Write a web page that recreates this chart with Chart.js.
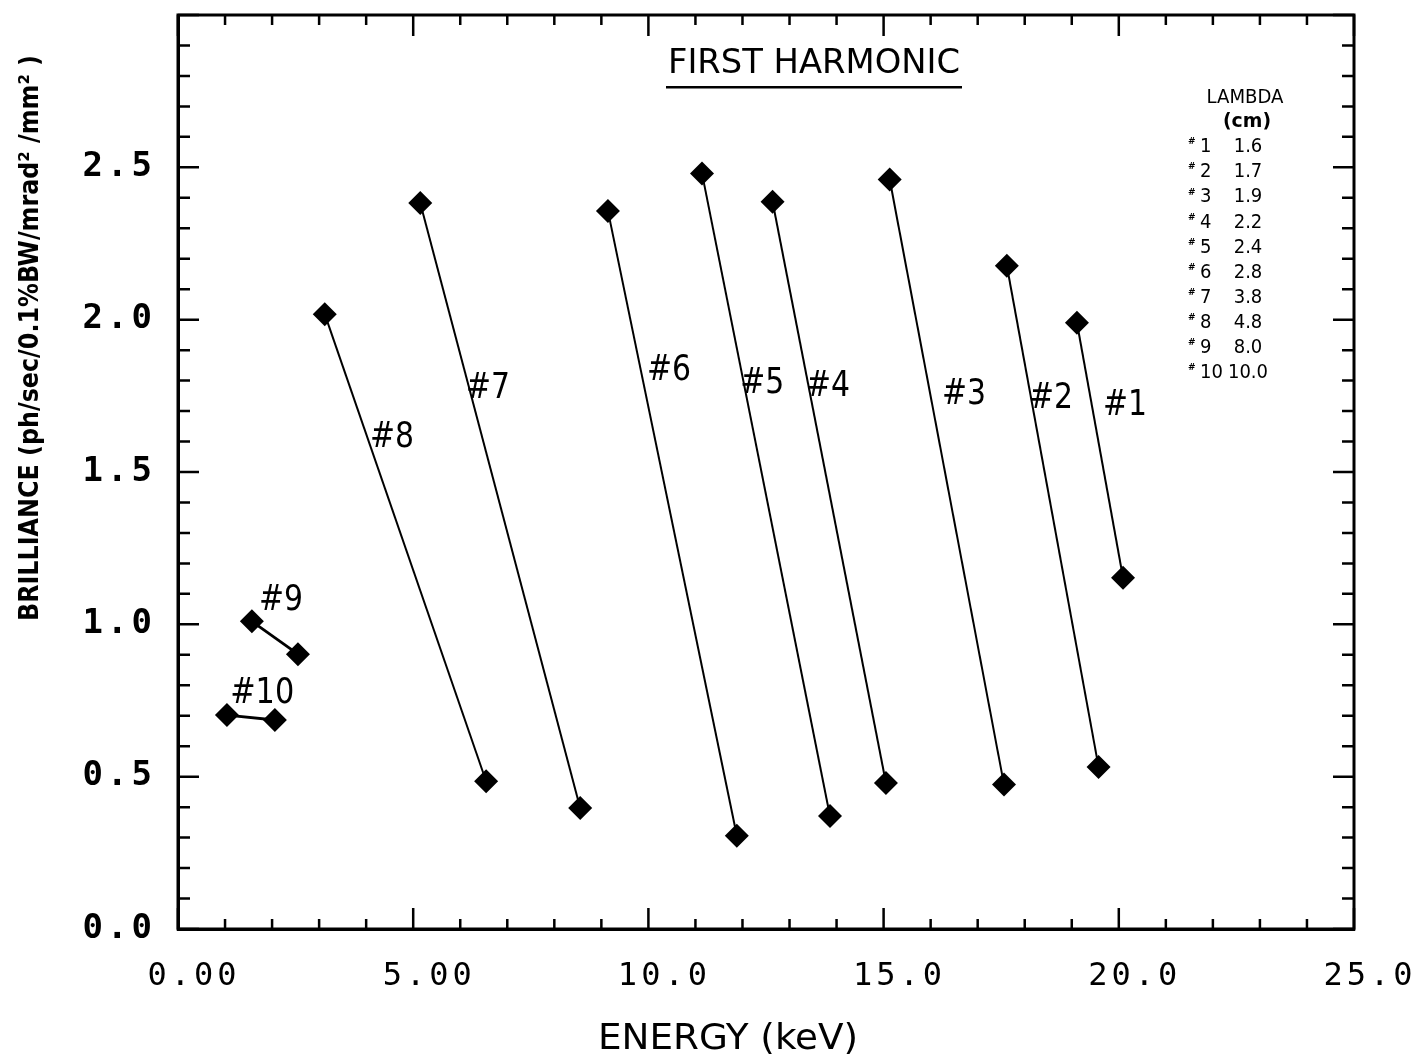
<!DOCTYPE html>
<html>
<head>
<meta charset="utf-8">
<script src="https://cdn.jsdelivr.net/npm/chart.js@4.4.1/dist/chart.umd.min.js"></script>
<style>
html,body{margin:0;padding:0;background:#fff;}
#wrap{width:1426px;height:1061px;}
</style>
</head>
<body>
<div id="wrap"><canvas id="c" width="1426" height="1061"></canvas></div>
<script>
// ---- data ----
const seriesNames = ['#1','#2','#3','#4','#5','#6','#7','#8','#9','#10'];
const lambdaCm    = ['1.6','1.7','1.9','2.2','2.4','2.8','3.8','4.8','8.0','10.0'];
const energyStart = [19.11, 17.62, 15.13, 12.64, 11.14, 9.14, 5.15, 3.12, 1.57, 1.04];
const energyEnd   = [20.09, 19.57, 17.56, 15.05, 13.86, 11.88, 8.55, 6.55, 2.55, 2.06];
const brillStart  = [1.990, 2.177, 2.460, 2.387, 2.480, 2.357, 2.383, 2.018, 1.010, 0.702];
const brillEnd    = [1.153, 0.532, 0.474, 0.479, 0.371, 0.306, 0.397, 0.485, 0.902, 0.686];
// where the "#n" tags sit, in axis units
const tagEnergy   = [20.13, 18.56, 16.71, 13.82, 12.42, 10.44, 6.59, 4.55, 2.19, 1.79];
const tagBrill    = [1.719, 1.742, 1.755, 1.781, 1.791, 1.834, 1.775, 1.614, 1.079, 0.774];
const xTickValues = [0, 5, 10, 15, 20, 25];
const xTickLabels = ['0.00', '5.00', '10.0', '15.0', '20.0', '25.0'];
const yTickValues = [0, 0.5, 1.0, 1.5, 2.0, 2.5];
const yTickLabels = ['0.0', '0.5', '1.0', '1.5', '2.0', '2.5'];
const chartTitle  = 'FIRST HARMONIC';
const xTitle      = 'ENERGY (keV)';
const yTitle      = 'BRILLIANCE (ph/sec/0.1%BW/mrad\u00B2 /mm\u00B2 )';
const legendHead  = ['LAMBDA', '(cm)'];

const datasets = seriesNames.map((name, i) => ({
  label: name,
  data: [{x: energyStart[i], y: brillStart[i]}, {x: energyEnd[i], y: brillEnd[i]}],
  borderColor: '#000',
  borderWidth: i >= 8 ? 2.8 : 2,
  pointStyle: 'rectRot',
  pointRadius: 12,
  pointBackgroundColor: '#000',
  pointBorderColor: '#000',
  pointBorderWidth: 0,
  tension: 0,
  fill: false
}));

function fitText(ctx, text, x, y, font, width, align) {
  ctx.save();
  ctx.font = font;
  const w = ctx.measureText(text).width;
  const s = width / w;
  ctx.translate(x, y);
  ctx.scale(s, 1);
  ctx.textAlign = align || 'center';
  ctx.textBaseline = 'middle';
  ctx.fillStyle = '#000';
  ctx.fillText(text, 0, 0);
  ctx.restore();
}

const spacingPlugin = {
  id: 'spacing',
  beforeDraw(chart) { chart.ctx.letterSpacing = '4px'; },
  beforeDatasetsDraw(chart) { chart.ctx.letterSpacing = '0px'; }
};

const CF = '"DejaVu Sans Condensed", "DejaVu Sans", sans-serif';

const decorPlugin = {
  id: 'decor',
  afterDraw(chart) {
    const ctx = chart.ctx;
    const a = chart.chartArea;
    const xs = chart.scales.x, ys = chart.scales.y;
    ctx.save();
    ctx.letterSpacing = '0px';
    ctx.strokeStyle = '#000';
    ctx.fillStyle = '#000';
    // frame
    ctx.lineWidth = 3;
    ctx.strokeRect(a.left, a.top, a.right - a.left, a.bottom - a.top);
    // inward ticks
    ctx.lineWidth = 2.5;
    ctx.beginPath();
    for (let v = 0; v <= 25; v++) {
      const px = xs.getPixelForValue(v);
      const len = v % 5 === 0 ? 21 : 10;
      ctx.moveTo(px, a.bottom); ctx.lineTo(px, a.bottom - len);
      ctx.moveTo(px, a.top); ctx.lineTo(px, a.top + len);
    }
    for (let k = 0; k <= 30; k++) {
      const v = k / 10;
      const py = ys.getPixelForValue(v);
      const len = k % 5 === 0 ? 21 : 12;
      ctx.moveTo(a.left, py); ctx.lineTo(a.left + len, py);
      ctx.moveTo(a.right, py); ctx.lineTo(a.right - len, py);
    }
    ctx.stroke();

    // title + underline
    fitText(ctx, chartTitle, 814, 64, '34px ' + CF, 292);
    ctx.fillRect(666, 86, 296, 2.5);

    // axis titles
    fitText(ctx, xTitle, 728, 1040, '36px ' + CF, 260);
    ctx.save();
    ctx.translate(31, 338);
    ctx.rotate(-Math.PI / 2);
    fitText(ctx, yTitle, 0, 0, 'bold 26px ' + CF, 566);
    ctx.restore();

    // series tags
    seriesNames.forEach((name, i) => {
      const px = xs.getPixelForValue(tagEnergy[i]);
      const py = ys.getPixelForValue(tagBrill[i]);
      const w = name.length > 2 ? 64 : 44;
      fitText(ctx, name, px, py, '36px ' + CF, w);
    });

    // lambda table
    fitText(ctx, legendHead[0], 1245, 98, '20px ' + CF, 77);
    fitText(ctx, legendHead[1], 1247, 122, 'bold 20px ' + CF, 48);
    seriesNames.forEach((name, i) => {
      const y = 147 + i * 25.1;
      ctx.save();
      ctx.textBaseline = 'middle';
      ctx.textAlign = 'left';
      ctx.font = 'bold 9px "DejaVu Sans", sans-serif';
      ctx.fillText('#', 1188, y - 5);
      ctx.font = '20px ' + CF;
      ctx.fillText(name.slice(1), 1200, y);
      ctx.textAlign = 'center';
      ctx.fillText(lambdaCm[i], 1248, y);
      ctx.restore();
    });
    ctx.restore();
  }
};

new Chart(document.getElementById('c'), {
  type: 'line',
  data: { datasets },
  options: {
    responsive: false,
    animation: false,
    layout: { padding: { left: 0, right: 72, top: 15, bottom: 0 } },
    plugins: { legend: { display: false }, tooltip: { enabled: false }, title: { display: false } },
    scales: {
      x: {
        type: 'linear',
        min: 0, max: 25,
        grid: { display: false, drawTicks: false },
        border: { display: true, color: '#000', width: 3 },
        afterBuildTicks(scale) { scale.ticks = xTickValues.map(v => ({ value: v })); },
        ticks: {
          color: '#000',
          padding: 28,
          labelOffset: 16,
          maxRotation: 0,
          autoSkip: false,
          font: { family: '"DejaVu Sans Mono", monospace', size: 32 },
          callback(v) { const k = xTickValues.indexOf(v); return k >= 0 ? xTickLabels[k] : ''; }
        },
        afterFit(scale) { scale.height = 132; scale.paddingLeft = 0; scale.paddingRight = 0; }
      },
      y: {
        type: 'linear',
        min: 0, max: 3,
        grid: { display: false, drawTicks: false },
        border: { display: true, color: '#000', width: 3 },
        afterBuildTicks(scale) { scale.ticks = yTickValues.map(v => ({ value: v })); },
        ticks: {
          color: '#000',
          padding: 22,
          autoSkip: false,
          font: { family: '"DejaVu Sans Mono", monospace', size: 34, weight: 'bold' },
          callback(v) { const k = yTickValues.indexOf(v); return k >= 0 ? yTickLabels[k] : ''; }
        },
        afterFit(scale) { scale.width = 178; scale.paddingTop = 0; scale.paddingBottom = 0; }
      }
    }
  },
  plugins: [spacingPlugin, decorPlugin]
});
</script>
</body>
</html>
